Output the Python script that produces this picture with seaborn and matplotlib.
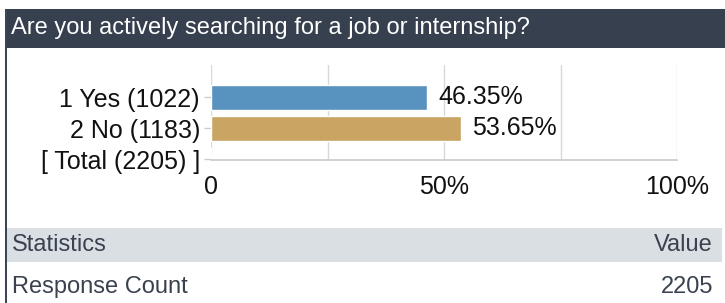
import matplotlib.pyplot as plt
import seaborn as sns
import pandas as pd
from matplotlib.patches import Rectangle

# survey data
question = "Are you actively searching for a job or internship?"
answers = ["1 Yes (1022)", "2 No (1183)", "[ Total (2205) ]"]
percent = [46.35, 53.65, 0.0]
value_labels = ["46.35%", "53.65%", ""]
bar_colors = ["#5892bf", "#c9a463", "#ffffff"]
x_ticks = [0, 50, 100]
x_tick_labels = ["0", "50%", "100%"]
grid_ticks = [25, 75]
stats_header = ["Statistics", "Value"]
stats_row = ["Response Count", "2205"]

sns.set_theme(style="white")
plt.rcParams["font.family"] = ["Liberation Sans", "DejaVu Sans"]

W, H = 725, 303
fig = plt.figure(figsize=(W / 100, H / 100), dpi=100)


def fx(px):
    return px / W


def fy(py):
    return 1 - py / H


# header band
fig.add_artist(Rectangle((fx(5), fy(48)), 1 - fx(5), fy(9) - fy(48),
                         transform=fig.transFigure, color="#36404e", lw=0))
fig.text(fx(11), fy(28), question, color="white", fontsize=17,
         va="center", ha="left")

# left border
fig.add_artist(Rectangle((fx(5), 0), fx(2), fy(9),
                         transform=fig.transFigure, color="#3b4556", lw=0))

# statistics table
fig.add_artist(Rectangle((fx(7), fy(262)), fx(722) - fx(7), fy(228) - fy(262),
                         transform=fig.transFigure, color="#d9dfe3", lw=0))
stat_font = 17
fig.text(fx(12), fy(245), stats_header[0], color="#3a4250", fontsize=stat_font,
         va="center", ha="left")
fig.text(fx(713), fy(245), stats_header[1], color="#3a4250", fontsize=stat_font,
         va="center", ha="right")
fig.text(fx(12), fy(287), stats_row[0], color="#3a4250", fontsize=stat_font,
         va="center", ha="left")
fig.text(fx(713), fy(287), stats_row[1], color="#3a4250", fontsize=stat_font,
         va="center", ha="right")

# bar chart
ax = fig.add_axes([fx(211), fy(160), fx(677) - fx(211), fy(65) - fy(160)])

df = pd.DataFrame({"answer": answers, "percent": percent})

sns.barplot(
    data=df,
    x="percent",
    y="answer",
    hue="answer",
    palette=bar_colors,
    saturation=1,
    order=answers,
    width=0.8,
    legend=False,
    ax=ax
)

ax.bar_label(ax.containers[0], labels=[value_labels[0]], padding=8,
             fontsize=18, color="#111111")
ax.bar_label(ax.containers[1], labels=[value_labels[1]], padding=8,
             fontsize=18, color="#111111")

ax.set_xlim(0, 100)
ax.set_ylim(2.02, -1.03)
ax.set_xticks(x_ticks)
ax.set_xticklabels(x_tick_labels)
ax.set_xticks(grid_ticks, minor=True)
ax.grid(axis="x", which="both", color="#d8d8d8", lw=1)
ax.tick_params(axis="x", which="both", length=0, pad=11,
               labelsize=18, labelcolor="#111111")
ax.tick_params(axis="y", length=5, width=1, color="#cccccc",
               labelsize=18, labelcolor="#111111", pad=3, left=True)
ax.set_xlabel("")
ax.set_ylabel("")

for side in ["top", "right", "left"]:
    ax.spines[side].set_visible(False)
ax.spines["bottom"].set_color("#cccccc")
ax.set_axisbelow(True)

fig.savefig("out.png", dpi=100)
plt.close()
